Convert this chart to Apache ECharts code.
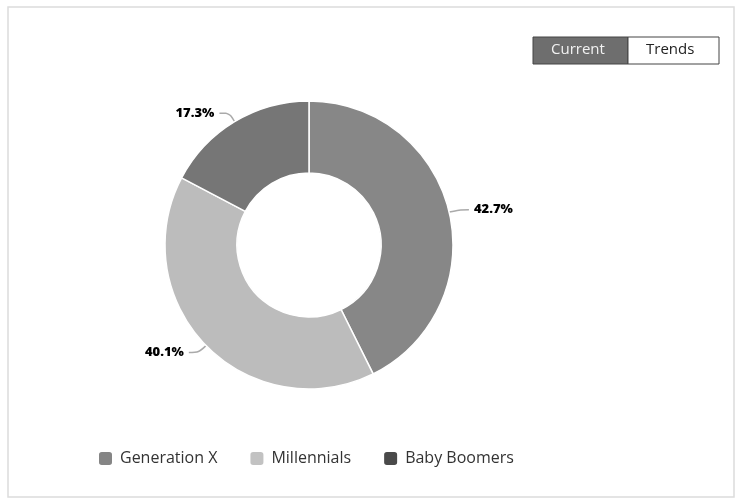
<!DOCTYPE html>
<html>
<head>
<meta charset="utf-8">
<script src="https://cdn.jsdelivr.net/npm/echarts@6/dist/echarts.min.js"></script>
<style>
  html, body { margin: 0; padding: 0; background: #fff; }
  #chart { width: 738px; height: 501px; }
</style>
</head>
<body>
<div id="chart"></div>
<script>
const segments = ['Generation X', 'Millennials', 'Baby Boomers']
const shares = [42.7, 40.1, 17.3]
const sliceColors = ['#878787', '#bcbcbc', '#767676']
const legendColors = ['#858585', '#c2c2c2', '#4a4a4a']
const toggleLabels = ['Current', 'Trends']

const chart = echarts.init(document.getElementById('chart'))

const option = {
  animation: false,
  backgroundColor: '#fff',
  graphic: [
    // 外框
    {
      type: 'rect',
      shape: { x: 8, y: 7, width: 726, height: 490 },
      style: { fill: 'none', stroke: '#dcdcdc', lineWidth: 1.5 }
    },
    // 切换按钮
    {
      type: 'rect',
      shape: { x: 533, y: 37, width: 95, height: 27 },
      style: { fill: '#6e6e6e', stroke: '#444', lineWidth: 1 }
    },
    {
      type: 'rect',
      shape: { x: 628, y: 37, width: 91, height: 27 },
      style: { fill: '#fff', stroke: '#444', lineWidth: 1 }
    },
    {
      type: 'text',
      left: 551, top: 42,
      style: { text: toggleLabels[0], fill: '#f2f2f2', font: '15px "Open Sans"' }
    },
    {
      type: 'text',
      left: 646, top: 42,
      style: { text: toggleLabels[1], fill: '#222', font: '15px "Open Sans"' }
    }
  ],
  legend: {
    left: 92,
    top: 445,
    itemWidth: 15,
    itemHeight: 15,
    itemGap: 31,
    icon: 'roundRect',
    textStyle: { fontFamily: 'Open Sans', fontSize: 16, color: '#333', padding: [0, 0, 0, 2] },
    data: segments.map((name, i) => ({ name, itemStyle: { color: legendColors[i] } }))
  },
  series: [
    {
      type: 'pie',
      center: [309, 245],
      radius: [72, 144],
      startAngle: 90,
      clockwise: true,
      label: {
        formatter: (p) => p.value.toFixed(1) + '%',
        fontFamily: 'Open Sans',
        fontWeight: 800,
        fontSize: 13,
        color: '#000',
        letterSpacing: -1
      },
      labelLine: {
        length: 10,
        length2: 10,
        smooth: true,
        lineStyle: { color: '#aaa', width: 1.5 }
      },
      itemStyle: { borderColor: '#fff', borderWidth: 1.5 },
      data: segments.map((name, i) => ({
        name,
        value: shares[i],
        itemStyle: { color: sliceColors[i] }
      }))
    }
  ]
}

chart.setOption(option)
</script>
</body>
</html>
